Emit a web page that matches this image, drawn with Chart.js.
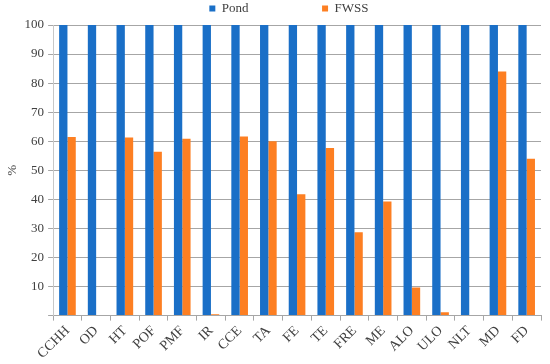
<!DOCTYPE html>
<html lang="en">
<head>
    <meta charset="UTF-8">
    <title>Pond vs FWSS</title>
    <script src="https://cdn.jsdelivr.net/npm/chart.js"></script>
    <style>
        html, body { margin: 0; padding: 0; background: #ffffff; }
        #wrap { width: 550px; height: 364px; }
    </style>
</head>
<body>
    <div id="wrap"><canvas id="chart"></canvas></div>

    <script>
        // Data
        const categories = ['CCHH', 'OD', 'HT', 'POF', 'PMF', 'IR', 'CCE', 'TA', 'FE', 'TE', 'FRE', 'ME', 'ALO', 'ULO', 'NLT', 'MD', 'FD'];
        const pondValues = [100, 100, 100, 100, 100, 100, 100, 100, 100, 100, 100, 100, 100, 100, 100, 100, 100];
        const fwssValues = [61.5, 0, 61.3, 56.4, 60.9, 0.5, 61.6, 60, 41.8, 57.7, 28.7, 39.3, 9.7, 1.2, 0, 84, 54];
        const yTicks = [10, 20, 30, 40, 50, 60, 70, 80, 90, 100];

        const serif = "'Liberation Serif', 'DejaVu Serif', serif";
        Chart.defaults.font.family = serif;
        Chart.defaults.color = '#404040';

        new Chart(document.getElementById('chart'), {
            type: 'bar',
            data: {
                labels: categories,
                datasets: [
                    { label: 'Pond', data: pondValues, backgroundColor: '#1a6fc7' },
                    { label: 'FWSS', data: fwssValues, backgroundColor: '#fd7f22' }
                ]
            },
            options: {
                responsive: true,
                maintainAspectRatio: false,
                animation: false,
                datasets: { bar: { categoryPercentage: 0.58, barPercentage: 1.0 } },
                layout: { padding: { top: 0, right: 9, bottom: 0, left: 5 } },
                plugins: {
                    legend: {
                        position: 'top',
                        fullSize: false,
                        labels: {
                            boxWidth: 6, boxHeight: 6, padding: 2,
                            font: { size: 13, family: serif },
                            color: '#404040',
                            // wide gap between the two legend entries
                            generateLabels: chart => {
                                const items = Chart.defaults.plugins.legend.labels.generateLabels(chart);
                                items[0].text = items[0].text + '\u00a0'.repeat(22);
                                items[1].text = items[1].text + '\u00a0'.repeat(5);
                                return items;
                            }
                        }
                    },
                    tooltip: { enabled: false }
                },
                scales: {
                    x: {
                        grid: { display: true, drawOnChartArea: false, offset: true, tickLength: 5, color: '#a6a6a6' },
                        border: { color: '#a6a6a6' },
                        ticks: { minRotation: 45, maxRotation: 45, autoSkip: false, padding: 2, font: { size: 14 } }
                    },
                    y: {
                        min: 0, max: 100,
                        afterBuildTicks: axis => { axis.ticks = [0].concat(yTicks).map(v => ({ value: v })); },
                        grid: { color: '#a6a6a6', tickLength: 5 },
                        border: { color: '#c8c8c8' },
                        ticks: {
                            font: { size: 13 }, padding: 4,
                            callback: v => (v === 0 ? '' : v)
                        },
                        title: { display: true, text: '%', font: { size: 13 }, padding: 0 }
                    }
                }
            }
        });
    </script>
</body>
</html>
